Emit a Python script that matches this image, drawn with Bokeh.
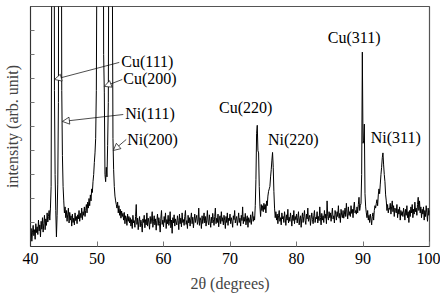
import numpy as np
from bokeh.plotting import figure
from bokeh.models import FixedTicker, Arrow, NormalHead, Label
from bokeh.embed import file_html
from bokeh.resources import INLINE

# 2-theta from 40.0 to 100.0 in 0.1 degree steps
two_theta = np.round(np.arange(400, 1001) / 10.0, 1)

intensity = [
    # 40.0 - 40.9
    40, 75, 22, 60, 88, 45, 70, 30, 95, 58,
    # 41
    82, 50, 110, 65, 90, 40, 105, 72, 120, 60,
    # 42
    95, 130, 70, 115, 88, 140, 102, 125, 150, 110,
    # 43
    160, 250, 1200, 3000, 3000, 3000, 650, 300, 150, 40,
    # 44
    130, 260, 600, 3000, 3000, 3000, 2000, 650, 380, 250,
    # 45
    190, 140, 165, 120, 150, 105, 135, 160, 98, 142,
    # 46
    110, 128, 85, 135, 100, 118, 90, 140, 108, 125,
    # 47
    95, 132, 115, 150, 105, 138, 120, 160, 112, 145,
    # 48
    130, 165, 125, 150, 175, 140, 185, 160, 200, 170,
    # 49
    215, 190, 240, 225, 270, 300, 350, 390, 450, 650,
    # 50
    1300, 3000, 3000, 3000, 3000, 3000, 3000, 3000, 3000, 2000,
    # 51
    800, 640, 300, 270, 330, 290, 420, 600, 1500, 3000,
    # 52
    3000, 3000, 3000, 1200, 450, 320, 250, 210, 190, 175,
    # 53
    160, 185, 140, 170, 130, 155, 118, 148, 125, 138,
    # 54
    110, 142, 95, 128, 120, 88, 135, 105, 125, 98,
    # 55
    120, 85, 112, 75, 130, 98, 108, 80, 125, 175,
    # 56
    92, 118, 70, 105, 125, 82, 110, 95, 60, 115,
    # 57
    100, 130, 78, 112, 90, 140, 85, 118, 102, 72,
    # 58
    125, 95, 110, 145, 80, 105, 128, 90, 115, 68,
    # 59
    108, 135, 88, 120, 96, 60, 118, 150, 92, 110,
    # 60
    82, 125, 100, 140, 75, 112, 95, 130, 88, 105,
    # 61
    145, 78, 110, 55, 120, 98, 132, 85, 115, 102,
    # 62
    90, 128, 108, 70, 135, 95, 118, 82, 140, 100,
    # 63
    112, 88, 125, 150, 92, 108, 75, 130, 98, 120,
    # 64
    85, 115, 140, 95, 122, 78, 110, 135, 100, 118,
    # 65
    130, 92, 105, 160, 88, 120, 110, 75, 128, 96,
    # 66
    115, 140, 98, 125, 85, 110, 150, 102, 90, 132,
    # 67
    105, 80, 122, 98, 138, 112, 88, 125, 160, 95,
    # 68
    118, 100, 135, 82, 115, 128, 95, 145, 105, 120,
    # 69
    90, 130, 110, 75, 125, 100, 140, 88, 118, 108,
    # 70
    135, 95, 120, 105, 80, 128, 112, 150, 98, 115,
    # 71
    125, 88, 110, 140, 100, 118, 85, 130, 108, 165,
    # 72
    95, 122, 105, 138, 90, 115, 128, 80, 120, 110,
    # 73
    100, 132, 92, 118, 145, 105, 125, 110, 170, 280,
    # 74
    470, 505, 400, 390, 250, 165, 125, 175, 150, 170,
    # 75
    145, 180, 155, 175, 140, 190, 170, 210, 230, 240,
    # 76
    250, 290, 320, 360, 392, 330, 230, 160, 120, 145,
    # 77
    110, 135, 95, 128, 150, 105, 120, 90, 140, 115,
    # 78
    125, 100, 145, 118, 88, 132, 110, 155, 98, 122,
    # 79
    105, 140, 115, 85, 130, 108, 150, 95, 125, 112,
    # 80
    135, 98, 120, 145, 90, 115, 128, 80, 118, 140,
    # 81
    100, 125, 150, 108, 92, 135, 115, 160, 105, 120,
    # 82
    130, 88, 118, 140, 112, 95, 128, 150, 100, 122,
    # 83
    115, 145, 98, 125, 108, 165, 120, 90, 138, 110,
    # 84
    128, 100, 150, 118, 135, 95, 190, 125, 110, 145,
    # 85
    120, 140, 105, 132, 160, 115, 128, 98, 150, 135,
    # 86
    110, 145, 125, 170, 118, 138, 100, 155, 130, 120,
    # 87
    150, 118, 135, 160, 125, 180, 140, 115, 165, 130,
    # 88
    145, 125, 170, 138, 155, 120, 160, 185, 140, 150,
    # 89
    135, 165, 140, 175, 205, 150, 170, 180, 300, 810,
    # 90
    430, 440, 510, 220, 165, 140, 120, 150, 110, 130,
    # 91
    100, 135, 115, 90, 125, 140, 110, 150, 170, 160,
    # 92
    180, 195, 170, 215, 240, 220, 260, 300, 330, 370,
    # 93
    390, 340, 300, 270, 215, 190, 150, 175, 140, 160,
    # 94
    155, 180, 135, 165, 190, 145, 170, 125, 160, 150,
    # 95
    140, 175, 120, 155, 135, 165, 110, 150, 130, 145,
    # 96
    125, 160, 140, 110, 155, 130, 170, 120, 145, 100,
    # 97
    150, 125, 165, 140, 175, 120, 155, 135, 185, 145,
    # 98
    160, 130, 175, 205, 150, 190, 140, 165, 120, 155,
    # 99
    135, 165, 110, 150, 125, 170, 140, 105, 160, 130,
    # 100.0
    150,
]

x_ticks = [40, 50, 60, 70, 80, 90, 100]
y_ticks = [100, 200, 300, 400, 500, 600, 700, 800, 900]

peak_names = ["Cu(111)", "Cu(200)", "Ni(111)", "Ni(200)",
              "Cu(220)", "Ni(220)", "Cu(311)", "Ni(311)"]

# label anchors (left / middle) in data units
label_pos = [(53.65, 771), (53.95, 700), (54.25, 554), (54.55, 446),
             (68.35, 579), (75.7, 446), (84.7, 871), (91.15, 454)]
# arrows: (x_start, y_start, x_end, y_end) for the first four labels
arrow_pos = [(53.35, 767, 43.6, 696), (53.8, 696, 51.1, 667),
             (53.95, 550, 44.8, 521), (54.4, 446, 52.45, 400)]

FONT = "'Liberation Serif', 'Times New Roman', serif"

p = figure(width=440, height=296, x_range=(40, 100), y_range=(0, 1000),
           output_backend="svg", toolbar_location=None,
           min_border_left=29, min_border_right=11,
           min_border_top=6, min_border_bottom=50)

p.line(two_theta, intensity, line_color="black", line_width=1.0)

p.xgrid.visible = False
p.ygrid.visible = False
p.outline_line_color = "#555555"
p.outline_line_width = 1.2
p.background_fill_color = "white"
p.border_fill_color = "white"

xa = p.xaxis[0]
xa.ticker = FixedTicker(ticks=x_ticks)
xa.minor_tick_line_color = None
xa.major_tick_in = 5
xa.major_tick_out = 0
xa.major_tick_line_color = "#777777"
xa.axis_line_color = "#333333"
xa.major_label_text_font = FONT
xa.major_label_text_font_size = "16px"
xa.major_label_text_color = "black"
xa.major_label_standoff = 6
xa.axis_label = "2θ (degrees)"
xa.axis_label_text_font = FONT
xa.axis_label_text_font_size = "16px"
xa.axis_label_text_font_style = "normal"
xa.axis_label_standoff = 8

ya = p.yaxis[0]
ya.ticker = FixedTicker(ticks=y_ticks)
ya.minor_tick_line_color = None
ya.major_tick_in = 4
ya.major_tick_out = 0
ya.major_tick_line_color = "#777777"
ya.axis_line_color = "#333333"
ya.major_label_overrides = {t: "" for t in y_ticks}
ya.major_label_standoff = 0
ya.axis_label = "intensity (arb. unit)"
ya.axis_label_text_font = FONT
ya.axis_label_text_font_size = "16px"
ya.axis_label_text_font_style = "normal"
ya.axis_label_standoff = 10

for name, (lx, ly) in zip(peak_names, label_pos):
    p.add_layout(Label(x=lx, y=ly, text=name, text_font=FONT,
                       text_font_size="16px", text_baseline="middle",
                       text_align="left", text_color="black"))

for (xs, ys, xe, ye) in arrow_pos:
    p.add_layout(Arrow(end=NormalHead(size=7, fill_color="white",
                                      line_color="black", line_width=0.7),
                       x_start=xs, y_start=ys, x_end=xe, y_end=ye,
                       line_color="black", line_width=0.7))

open("out.html", "w").write(file_html(p, INLINE))
